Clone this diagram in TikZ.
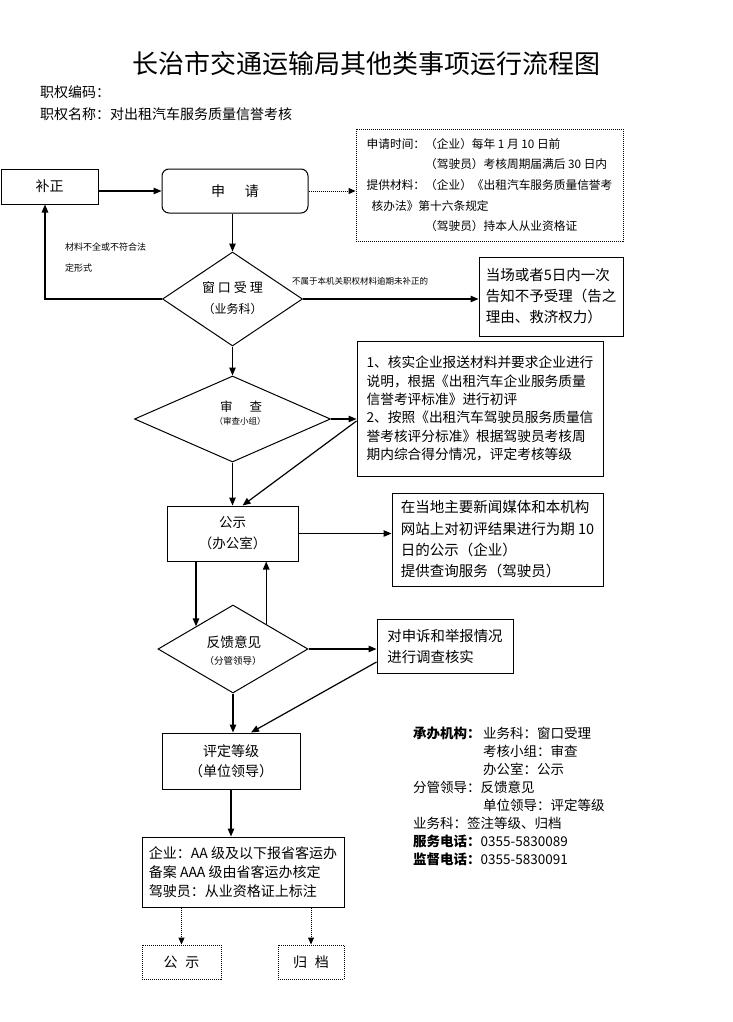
\documentclass[tikz,border=0pt]{standalone}
\usepackage{fontspec}
\setmainfont{Noto Sans CJK SC}
\usetikzlibrary{arrows.meta,shapes.geometric,calc}
\newcommand\fsz[2]{\fontsize{#1pt}{#2pt}\selectfont}
\begin{document}
\begin{tikzpicture}[x=1pt,y=-1pt,
  box/.style={draw, line width=1pt, inner sep=0pt, align=center},
  lbox/.style={draw, line width=1pt, inner sep=0pt, align=left},
  dbox/.style={draw, line width=0.9pt, dash pattern=on 1pt off 1pt, inner sep=0pt},
  dia/.style={draw, diamond, line width=1pt, inner sep=0pt},
  arr/.style={line width=1.2pt, -{Triangle[length=8pt,width=6.5pt]}},
  darr/.style={line width=1pt, dash pattern=on 1pt off 1pt, -{Triangle[length=7pt,width=6pt]}},
  lbl/.style={anchor=west, inner sep=0pt}]
\fill[white] (0,0) rectangle (733,1022);
\useasboundingbox (0,0) rectangle (733,1022);

% header
\node[font=\fsz{26}{30}] (title) at (366,64) {长治市交通运输局其他类事项运行流程图};
\node[lbl, font=\fsz{14}{16}] (code) at (40,92) {职权编码：};
\node[lbl, font=\fsz{14}{16}] (name) at (40,114) {职权名称：对出租汽车服务质量信誉考核};

% top row
\node[box, minimum width=97pt, minimum height=35pt, font=\fsz{14}{17}] (bz) at (49.5,186.5) {补正};
\node[box, rounded corners=7pt, minimum width=146pt, minimum height=44pt, font=\fsz{14}{17}] (sq) at (235,191) {申\hspace{20pt}请};
\node[dbox, minimum width=267pt, minimum height=112pt, align=left, font=\fsz{11.7}{20.7}] (info) at (489.5,185)
 {申请时间：（企业）每年 1 月 10 日前\\
  \phantom{申请时间：}（驾驶员）考核周期届满后 30 日内\\
  提供材料：（企业）《出租汽车服务质量信誉考\\
  \hspace*{5pt}核办法》第十六条规定\\
  \phantom{提供材料：}（驾驶员）持本人从业资格证};

% window acceptance
\node[dia, minimum width=140pt, minimum height=94pt] (ck) at (232.5,299) {};
\node[font=\fsz{13}{15}] (ckt1) at (232.5,288) {窗\hspace{3pt}口\hspace{3pt}受\hspace{3pt}理};
\node[font=\fsz{12}{14}] (ckt2) at (232.5,309) {（业务科）};
\node[lbox, minimum width=144pt, minimum height=79pt, font=\fsz{14.5}{21}] (dc) at (551,296.5)
 {当场或者5日内一次\\告知不予受理（告之\\理由、救济权力）};
\node[lbl, font=\fsz{9}{18}] (lb1) at (65,247) {材料不全或不符合法};
\node[lbl, font=\fsz{9}{18}] (lb2) at (65,268) {定形式};
\node[lbl, font=\fsz{8.5}{10}] (lb3) at (292,281) {不属于本机关职权材料逾期未补正的};

% review
\node[dia, minimum width=196pt, minimum height=86pt] (sc) at (232.5,419) {};
\node[font=\fsz{12.5}{15}] (sct1) at (241,407) {审\hspace{17pt}查};
\node[font=\fsz{8.5}{10}] (sct2) at (240,421) {（审查小组）};
\node[lbox, minimum width=246pt, minimum height=135pt, font=\fsz{13.7}{18.3}] (b1) at (480,408.5)
 {1、核实企业报送材料并要求企业进行\\
  说明，根据《出租汽车企业服务质量\\
  信誉考评标准》进行初评\\
  2、按照《出租汽车驾驶员服务质量信\\
  誉考核评分标准》根据驾驶员考核周\\
  期内综合得分情况，评定考核等级};

% publicity
\node[box, minimum width=131pt, minimum height=55pt, font=\fsz{13.5}{21}] (gs) at (232.5,533.5) {公示\\（办公室）};
\node[lbox, minimum width=211pt, minimum height=93pt, font=\fsz{14.5}{21.3}] (b3) at (497.5,539.5)
 {在当地主要新闻媒体和本机构\\
  网站上对初评结果进行为期 10\\
  日的公示（企业）\\
  提供查询服务（驾驶员）};

% feedback
\node[dia, minimum width=150pt, minimum height=88pt] (fk) at (233,649) {};
\node[font=\fsz{13.7}{16}] (fkt1) at (234,642) {反馈意见};
\node[font=\fsz{9.5}{11}] (fkt2) at (233,661) {（分管领导）};
\node[lbox, minimum width=136pt, minimum height=54pt, font=\fsz{14.4}{21}] (fkb) at (445,646)
 {对申诉和举报情况\\进行调查核实};

% rating
\node[box, minimum width=138pt, minimum height=56pt, font=\fsz{14}{20}] (pd) at (231,761) {评定等级\\（单位领导）};
\node[lbox, minimum width=202pt, minimum height=70pt, font=\fsz{14}{19}] (fin) at (243,872)
 {企业：AA 级及以下报省客运办\\
  备案 AAA 级由省客运办核定\\
  驾驶员：从业资格证上标注};
\node[dbox, minimum width=79pt, minimum height=34pt, font=\fsz{14}{16}] (gs2) at (181.5,962) {公\hspace{8pt}示};
\node[dbox, minimum width=66pt, minimum height=34pt, font=\fsz{14}{16}] (gd) at (311,962) {归\hspace{8pt}档};

% legend text
\node[lbl, font=\fsz{13.5}{16}] (r1) at (413,733) {\textbf{承办机构：}};
\node[lbl, font=\fsz{13.5}{16}] (r1b) at (483,733) {业务科：窗口受理};
\node[lbl, font=\fsz{13.5}{16}] (r2) at (483,751) {考核小组：审查};
\node[lbl, font=\fsz{13.5}{16}] (r3) at (483,769) {办公室：公示};
\node[lbl, font=\fsz{13.5}{16}] (r4) at (413,787) {分管领导：反馈意见};
\node[lbl, font=\fsz{13.5}{16}] (r5) at (483,805) {单位领导：评定等级};
\node[lbl, font=\fsz{13.5}{16}] (r6) at (413,823) {业务科：签注等级、归档};
\node[lbl, font=\fsz{13.5}{16}] (r7) at (413,841) {\textbf{服务电话：}0355-5830089};
\node[lbl, font=\fsz{13.5}{16}] (r8) at (413,859) {\textbf{监督电话：}0355-5830091};

% connectors
\draw[arr] (bz.east |- sq.west) -- (sq.west);
\draw[darr] (sq.east) -- (sq.east -| info.west);
\draw[arr] (sq.south -| ck.north) -- (ck.north);
\draw[arr] (ck.west) -| ([xshift=-4.5pt]bz.south);
\draw[arr] (ck.east) -- (ck.east -| dc.west);
\draw[arr] (ck.south) -- (sc.north);
\draw[arr] (sc.east) -- (sc.east -| b1.west);
\draw[arr] ([yshift=-2pt]b1.west |- sc.east) -- ([xshift=10pt]gs.north);
\draw[arr] (sc.south) -- (sc.south |- gs.north);
\draw[arr] (gs.east) -- (gs.east -| b3.west);
\coordinate (fknw) at ($(fk.north)!0.49!(fk.west)$);
\coordinate (fkne) at ($(fk.north)!0.44!(fk.east)$);
\draw[arr] (gs.south -| fknw) -- (fknw);
\draw[arr] (fkne) -- (fkne |- gs.south);
\draw[arr] (fk.east) -- (fk.east -| fkb.west);
\draw[arr] ([yshift=-16pt]fkb.west) -- ([xshift=20pt]pd.north);
\draw[arr] (fk.south) -- (fk.south |- pd.north);
\draw[arr] (pd.south) -- (pd.south |- fin.north);
\draw[darr] (fin.south -| gs2.north) -- (gs2.north);
\draw[darr] (fin.south -| gd.north) -- (gd.north);
\end{tikzpicture}
\end{document}
